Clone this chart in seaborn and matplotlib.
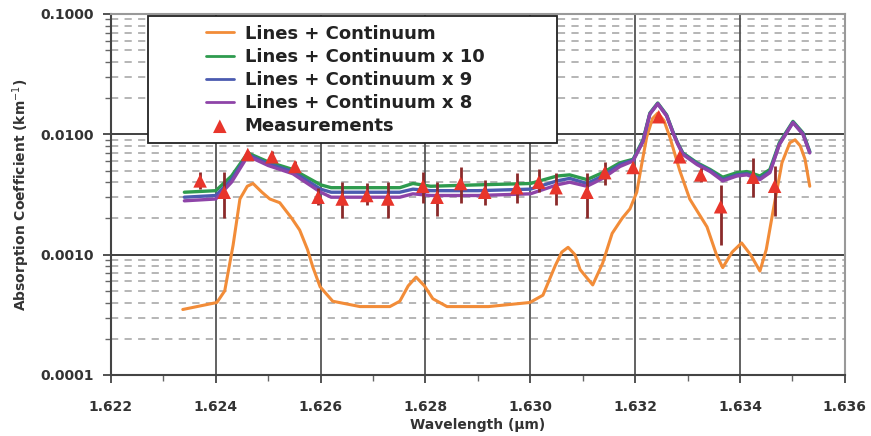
import numpy as np
import pandas as pd
import matplotlib
matplotlib.use("Agg")
import matplotlib.pyplot as plt
import seaborn as sns
from matplotlib.patches import Rectangle
from matplotlib.ticker import FixedLocator, MultipleLocator, NullFormatter

# Curva "Lines + Continuum"
orange_wl = [1.62337, 1.62402, 1.62417, 1.62433, 1.62446, 1.62460, 1.62471, 1.62488, 1.62503,
             1.62522, 1.62545, 1.62560, 1.62575, 1.62585, 1.62599, 1.62623, 1.62675, 1.62732,
             1.62751, 1.62767, 1.62782, 1.62798, 1.62814, 1.62841, 1.62920, 1.62999, 1.63024,
             1.63047, 1.63060, 1.63072, 1.63085, 1.63095, 1.63119, 1.63138, 1.63156, 1.63175,
             1.63190, 1.63203, 1.63212, 1.63222, 1.63233, 1.63243, 1.63255, 1.63266, 1.63285,
             1.63304, 1.63337, 1.63355, 1.63367, 1.63385, 1.63403, 1.63420, 1.63438, 1.63450,
             1.63463, 1.63480, 1.63495, 1.63505, 1.63515, 1.63524, 1.63533]
orange_val = [0.00035, 0.00040, 0.00050, 0.0012, 0.0029, 0.0037, 0.0039, 0.0033, 0.0029,
              0.0027, 0.0020, 0.0016, 0.0011, 0.00079, 0.00054, 0.00041, 0.00037, 0.00037,
              0.00041, 0.00055, 0.00065, 0.00055, 0.00043, 0.00037, 0.00037, 0.00040, 0.00046,
              0.00080, 0.00105, 0.00115, 0.00100, 0.00075, 0.00056, 0.00085, 0.0015, 0.0020,
              0.0024, 0.0033, 0.0055, 0.0095, 0.0135, 0.0150, 0.0130, 0.0095, 0.0050,
              0.0029, 0.0017, 0.0010, 0.00078, 0.00105, 0.00125, 0.00100, 0.00073, 0.00110,
              0.0023, 0.0058, 0.0085, 0.0090, 0.0080, 0.0062, 0.0037]

# Curvas con el continuo escalado (x10, x9, x8)
model_wl = [1.6234, 1.6240, 1.6243, 1.62461, 1.6250, 1.62547, 1.6260, 1.6262, 1.6270, 1.62751,
            1.62776, 1.6281, 1.6290, 1.6300, 1.63051, 1.63075, 1.63108, 1.63138, 1.63171, 1.63196,
            1.63215, 1.63228, 1.63243, 1.63260, 1.63272, 1.63281, 1.63291, 1.63318, 1.63343,
            1.63367, 1.63394, 1.63413, 1.63438, 1.63457, 1.63475, 1.63501, 1.63520, 1.63533]
green_val = [0.0033, 0.0034, 0.0045, 0.0070, 0.0059, 0.0051, 0.0038, 0.0036, 0.0036, 0.0036,
             0.0039, 0.0037, 0.0038, 0.0039, 0.0045, 0.0046, 0.0042, 0.0048, 0.0058, 0.0062,
             0.0090, 0.0150, 0.0182, 0.0145, 0.0105, 0.0085, 0.0070, 0.0058, 0.0051,
             0.0044, 0.0048, 0.0049, 0.0045, 0.0051, 0.0085, 0.0128, 0.0103, 0.0072]
blue_val = [0.0030, 0.0031, 0.0042, 0.0068, 0.0057, 0.0049, 0.0035, 0.0033, 0.0033, 0.0033,
            0.0035, 0.0034, 0.0034, 0.0035, 0.0041, 0.0043, 0.0039, 0.0045, 0.0056, 0.0061,
            0.0088, 0.0148, 0.0180, 0.0143, 0.0104, 0.0084, 0.0069, 0.0057, 0.0050,
            0.0042, 0.0046, 0.0047, 0.0043, 0.0049, 0.0083, 0.0126, 0.0101, 0.0071]
purple_val = [0.0028, 0.0029, 0.0040, 0.0066, 0.0055, 0.0047, 0.0033, 0.0030, 0.0030, 0.0030,
              0.0032, 0.0031, 0.0031, 0.0032, 0.0038, 0.0040, 0.0037, 0.0043, 0.0054, 0.0060,
              0.0087, 0.0147, 0.0179, 0.0142, 0.0103, 0.0083, 0.0068, 0.0056, 0.0049,
              0.0041, 0.0045, 0.0046, 0.0042, 0.0048, 0.0082, 0.0125, 0.0100, 0.0070]

# Medidas con sus barras de error
meas_wl = [1.62370, 1.62416, 1.62461, 1.62507, 1.62551, 1.62595, 1.62641, 1.62688, 1.62728,
           1.62795, 1.62822, 1.62867, 1.62913, 1.62974, 1.63016, 1.63049, 1.63108, 1.63142,
           1.63196, 1.63245, 1.63285, 1.63325, 1.63363, 1.63425, 1.63466]
meas_val = [0.0041, 0.0033, 0.0068, 0.0065, 0.0054, 0.0030, 0.0029, 0.0031, 0.0029,
            0.0037, 0.0030, 0.0039, 0.0033, 0.0036, 0.0040, 0.0036, 0.0033, 0.0048,
            0.0053, 0.0140, 0.0065, 0.0046, 0.0025, 0.0044, 0.0037]
meas_lo = [0.0035, 0.0020, 0.0064, 0.0059, 0.0049, 0.0026, 0.0020, 0.0026, 0.0020,
           0.0027, 0.0021, 0.0027, 0.0026, 0.0027, 0.0033, 0.0026, 0.0020, 0.0038,
           0.0049, 0.0135, 0.0060, 0.0040, 0.0012, 0.0030, 0.0021]
meas_hi = [0.0049, 0.0049, 0.0072, 0.0073, 0.0060, 0.0036, 0.0040, 0.0039, 0.0040,
           0.0049, 0.0040, 0.0053, 0.0042, 0.0048, 0.0051, 0.0048, 0.0048, 0.0059,
           0.0057, 0.0146, 0.0070, 0.0052, 0.0038, 0.0064, 0.0054]

x_ticks = [1.622, 1.624, 1.626, 1.628, 1.630, 1.632, 1.634, 1.636]
y_ticks = [0.0001, 0.001, 0.01, 0.1]
y_labels = ["0.0001", "0.0010", "0.0100", "0.1000"]

sns.set_theme(style="white")
plt.rcParams["font.family"] = ["DejaVu Sans"]

fig, ax = plt.subplots(figsize=(8.71, 4.36), dpi=100)
fig.subplots_adjust(left=0.1274, right=0.970, top=0.968, bottom=0.140)

ax.set_yscale("log")
ax.set_xlim(1.622, 1.636)
ax.set_ylim(0.0001, 0.1)

# rejilla
minor_y = [m * 10.0 ** e for e in range(-4, -1) for m in range(2, 10)]
for v in minor_y:
    ax.axhline(v, color="#b0b0b0", lw=1.3, ls=(0, (4, 3.5)), zorder=0)
for v in y_ticks[1:-1]:
    ax.axhline(v, color="#333333", lw=1.3, zorder=0.5)
for v in x_ticks[1:-1]:
    ax.axvline(v, color="#555555", lw=1.3, zorder=0.5)

sns.lineplot(x=orange_wl, y=orange_val, ax=ax, color="#F28C38", lw=2.2, label="Lines + Continuum", zorder=2)
sns.lineplot(x=model_wl, y=green_val, ax=ax, color="#2E9B4E", lw=2.4, label="Lines + Continuum x 10", zorder=3)
sns.lineplot(x=model_wl, y=blue_val, ax=ax, color="#4B5BB0", lw=2.4, label="Lines + Continuum x 9", zorder=4)
sns.lineplot(x=model_wl, y=purple_val, ax=ax, color="#8E44A8", lw=2.4, label="Lines + Continuum x 8", zorder=5)

yerr = [np.array(meas_val) - np.array(meas_lo), np.array(meas_hi) - np.array(meas_val)]
ax.errorbar(meas_wl, meas_val, yerr=yerr, fmt="none", ecolor="#8B2A2A", elinewidth=2.0, capsize=0, zorder=6)
sns.scatterplot(x=meas_wl, y=meas_val, ax=ax, marker="^", s=95, color="#E8352B", edgecolor="none",
                label="Measurements", zorder=7)

# ejes
ax.xaxis.set_major_locator(FixedLocator(x_ticks))
ax.xaxis.set_minor_locator(MultipleLocator(0.001))
ax.set_xticklabels([f"{t:.3f}" for t in x_ticks])
ax.yaxis.set_major_locator(FixedLocator(y_ticks))
ax.yaxis.set_minor_locator(FixedLocator(minor_y))
ax.yaxis.set_minor_formatter(NullFormatter())
ax.set_yticklabels(y_labels)
ax.tick_params(axis="both", which="major", direction="out", length=6, width=1.3, color="#444444",
               labelsize=10, labelcolor="#333333", bottom=True, left=True)
ax.tick_params(axis="x", which="major", pad=12)
ax.tick_params(axis="y", which="major", pad=6)
ax.tick_params(axis="both", which="minor", direction="out", length=4, width=1.0, color="#666666",
               bottom=True, left=True)
for lab in ax.get_xticklabels() + ax.get_yticklabels():
    lab.set_fontweight("bold")
for s in ax.spines.values():
    s.set_color("#999999")
    s.set_linewidth(1.5)
ax.spines["left"].set_color("#444444")
ax.spines["bottom"].set_color("#444444")

ax.set_xlabel("Wavelength (µm)", fontsize=10, fontweight="bold", color="#333333", labelpad=3)
ax.set_ylabel("Absorption Coefficient (km$^{-1}$)", fontsize=10, fontweight="bold", color="#333333", labelpad=6)

# caja de la leyenda
ax.add_patch(Rectangle((0.050, 0.643), 0.558, 0.351, transform=ax.transAxes, facecolor="white",
                       edgecolor="#222222", lw=1.3, zorder=9))
handles, labels = ax.get_legend_handles_labels()
leg = ax.legend(handles, labels, loc="upper left", bbox_to_anchor=(0.112, 1.005), frameon=False,
                fontsize=13, labelspacing=0.28, handlelength=1.55, handletextpad=0.6, borderpad=0.2)
leg.set_zorder(10)
for t in leg.get_texts():
    t.set_fontweight("bold")
    t.set_color("#222222")
for h in leg.legend_handles[:4]:
    h.set_linewidth(2.0)

fig.savefig("out.png", dpi=100)
